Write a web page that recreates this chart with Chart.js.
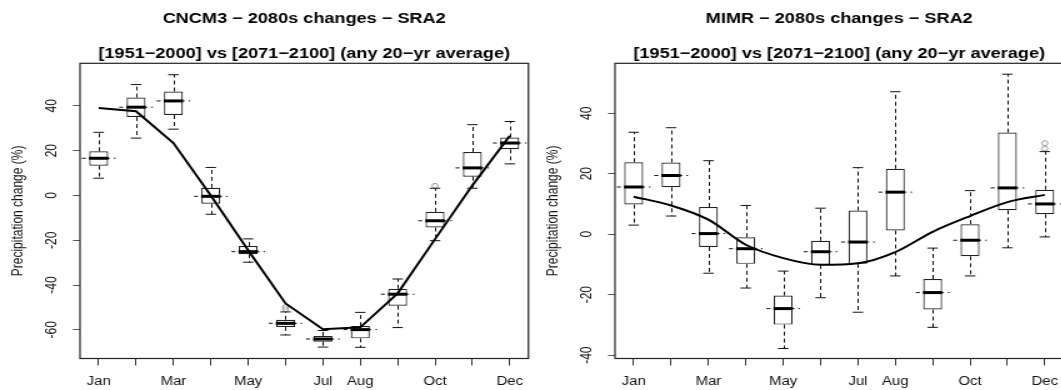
<!DOCTYPE html>
<html>
<head>
<meta charset="utf-8">
<script src="https://cdn.jsdelivr.net/npm/chart.js@4.4.0/dist/chart.umd.min.js"></script>
<style>
  html, body { margin: 0; padding: 0; background: #fff; width: 1061px; height: 390px; overflow: hidden; }
  /* the reference is stretched sideways, so each panel is drawn narrow and widened */
  .panel { position: absolute; top: 0; width: 428px; height: 390px; transform: scaleX(1.25); transform-origin: 0 0; }
  #p1 { left: 0; }
  #p2 { left: 535px; }
</style>
</head>
<body>
<div class="panel" id="p1"><canvas id="c1" width="428" height="390"></canvas></div>
<div class="panel" id="p2"><canvas id="c2" width="428" height="390"></canvas></div>
<script>
// Monate + welche Labels R ueberhaupt zeigt
const months = ['Jan', 'Feb', 'Mar', 'Apr', 'May', 'Jun', 'Jul', 'Aug', 'Sep', 'Oct', 'Nov', 'Dec'];
const shownMonths = ['Jan', 'Mar', 'May', 'Jul', 'Aug', 'Oct', 'Dec'];

// CNCM3 boxplots (whisker low, Q1, median, Q3, whisker high) + ensemble line
const cncmLow  = [7.7, 25.6, 29.6, -8.4, -29.8, -62.3, -67.7, -67.8, -59.0, -20.2, 3.2, 14.1];
const cncmQ1   = [13.3, 35.0, 35.9, -3.7, -26.2, -58.7, -65.3, -63.8, -49.2, -14.3, 8.4, 20.6];
const cncmMed  = [16.6, 39.4, 42.2, -0.4, -25.1, -57.1, -64.1, -59.9, -44.1, -11.3, 12.3, 23.4];
const cncmQ3   = [19.7, 43.7, 46.4, 3.4, -22.6, -55.5, -62.7, -58.3, -41.7, -7.3, 19.4, 25.9];
const cncmHigh = [28.2, 49.5, 53.9, 12.5, -19.4, -52.0, -60.3, -52.2, -37.3, 3.2, 31.6, 33.0];
const cncmLine = [39.0, 37.6, 23.4, 0.0, -24.5, -48.2, -59.7, -58.9, -43.7, -19.5, 4.5, 26.7];
const cncmOutMonth = ['Jun', 'Jun', 'Oct'];
const cncmOutValue = [-49.8, -50.8, 4.3];
const cncmTicks = [-60, -40, -20, 0, 20, 40];

// MIMR
const mimrLow  = [3.0, 6.0, -12.9, -17.8, -37.8, -21.0, -25.8, -13.8, -30.8, -13.8, -4.5, -0.9];
const mimrQ1   = [9.8, 15.5, -4.2, -9.8, -29.9, -10.2, -9.8, 1.2, -24.9, -7.3, 7.9, 6.6];
const mimrMed  = [15.6, 19.4, 0.2, -4.8, -24.6, -5.8, -2.6, 13.9, -19.3, -2.0, 15.3, 10.0];
const mimrQ3   = [23.8, 23.7, 9.0, -1.0, -20.3, -2.2, 7.8, 21.6, -14.8, 3.3, 33.6, 14.7];
const mimrHigh = [33.7, 35.2, 24.3, 9.5, -12.2, 8.6, 22.0, 47.1, -4.6, 14.4, 52.9, 27.3];
const mimrLine = [12.4, 9.5, 4.8, -3.5, -7.9, -10.1, -9.6, -5.9, 0.8, 6.0, 10.6, 13.0];
const mimrOutMonth = ['Dec', 'Dec'];
const mimrOutValue = [30.1, 28.3];
const mimrTicks = [-40, -20, 0, 20, 40];

const FONT = '"Liberation Sans", Arial, Helvetica, sans-serif';

// Whisker, Kappen und Mediane selbst zeichnen (Chart.js hat keinen Boxplot)
const boxWhiskers = {
    id: 'boxWhiskers',
    beforeDatasetDraw(chart, args, opts) {
        if (args.index !== 0) return;
        const { ctx } = chart;
        const x = chart.scales.x, y = chart.scales.y;
        const step = x.getPixelForValue(1) - x.getPixelForValue(0);
        ctx.save();
        ctx.strokeStyle = '#111';
        ctx.lineWidth = 1;
        // gestrichelte Linie auf Hoehe des Medians
        ctx.setLineDash([3.2, 3.2]);
        opts.med.forEach((v, i) => {
            const cx = x.getPixelForValue(i), py = y.getPixelForValue(v);
            ctx.beginPath();
            ctx.moveTo(cx - step * 0.45, py);
            ctx.lineTo(cx + step * 0.45, py);
            ctx.stroke();
        });
        // Whisker
        ctx.setLineDash([4, 3]);
        opts.low.forEach((v, i) => {
            const cx = Math.round(x.getPixelForValue(i)) + 0.5;
            ctx.beginPath();
            ctx.moveTo(cx, y.getPixelForValue(opts.q3[i]));
            ctx.lineTo(cx, y.getPixelForValue(opts.high[i]));
            ctx.moveTo(cx, y.getPixelForValue(opts.q1[i]));
            ctx.lineTo(cx, y.getPixelForValue(v));
            ctx.stroke();
        });
        // Kappen
        ctx.setLineDash([]);
        opts.low.forEach((v, i) => {
            const cx = x.getPixelForValue(i);
            [v, opts.high[i]].forEach(w => {
                const py = y.getPixelForValue(w);
                ctx.beginPath();
                ctx.moveTo(cx - step * 0.14, py);
                ctx.lineTo(cx + step * 0.14, py);
                ctx.stroke();
            });
        });
        ctx.restore();
    },
    afterDatasetDraw(chart, args, opts) {
        if (args.index !== 0) return;
        const { ctx } = chart;
        const x = chart.scales.x, y = chart.scales.y;
        const step = x.getPixelForValue(1) - x.getPixelForValue(0);
        ctx.save();
        ctx.strokeStyle = '#000';
        ctx.lineWidth = 3;
        opts.med.forEach((v, i) => {
            const cx = x.getPixelForValue(i), py = y.getPixelForValue(v);
            ctx.beginPath();
            ctx.moveTo(cx - step * 0.26, py);
            ctx.lineTo(cx + step * 0.26, py);
            ctx.stroke();
        });
        ctx.restore();
    },
    afterDraw(chart) {
        const { ctx, chartArea: a } = chart;
        ctx.save();
        ctx.strokeStyle = '#222';
        ctx.lineWidth = 1.2;
        ctx.strokeRect(a.left, a.top, a.right - a.left, a.bottom - a.top);
        ctx.restore();
    }
};

function makeChart(canvasId, title, low, q1, med, q3, high, line, outMonth, outValue, yTicks, yMin, yMax, smooth) {
    const ctx = document.getElementById(canvasId).getContext('2d');
    return new Chart(ctx, {
        type: 'bar',
        data: {
            labels: months,
            datasets: [
                {
                    type: 'bar',
                    data: months.map((m, i) => [q1[i], q3[i]]),
                    backgroundColor: '#fff',
                    borderColor: '#222',
                    borderWidth: 1.2,
                    borderSkipped: false,
                    barPercentage: 0.507,
                    categoryPercentage: 1,
                    order: 2
                },
                {
                    type: 'line',
                    data: line,
                    borderColor: '#000',
                    borderWidth: 2,
                    pointRadius: 0,
                    cubicInterpolationMode: smooth ? 'monotone' : 'default',
                    tension: 0,
                    fill: false,
                    order: 1
                },
                {
                    type: 'line',
                    data: outMonth.map((m, i) => ({ x: m, y: outValue[i] })),
                    showLine: false,
                    pointStyle: 'circle',
                    pointRadius: 2.4,
                    pointBorderWidth: 1,
                    pointBorderColor: '#9a9a9a',
                    pointBackgroundColor: 'rgba(0,0,0,0)',
                    order: 3
                }
            ]
        },
        options: {
            responsive: false,
            animation: false,
            layout: { padding: { left: 0, right: 4, top: 0, bottom: 0 } },
            plugins: {
                legend: { display: false },
                tooltip: { enabled: false },
                title: {
                    display: true, text: title, fullSize: false, color: '#000',
                    font: { family: FONT, size: 14.5, weight: 'bold', lineHeight: 1.2 },
                    padding: { top: 9.9, bottom: 10 }
                },
                subtitle: {
                    display: true, text: '[1951\u22122000] vs [2071\u22122100] (any 20\u2212yr average)',
                    fullSize: false, color: '#000',
                    font: { family: FONT, size: 14.5, weight: 'bold', lineHeight: 1.2 },
                    padding: { top: 7.5, bottom: 1.1 }
                },
                boxWhiskers: { low: low, q1: q1, med: med, q3: q3, high: high }
            },
            scales: {
                x: {
                    type: 'category',
                    offset: true,
                    afterFit: s => { s.height = 31.5; },
                    grid: { drawOnChartArea: false, offset: false, tickLength: 7, tickColor: '#333' },
                    border: { display: false },
                    ticks: {
                        autoSkip: false, maxRotation: 0, padding: 9.3, color: '#111',
                        font: { family: FONT, size: 12 },
                        callback: (v, i) => shownMonths.includes(months[i]) ? months[i] : ''
                    }
                },
                y: {
                    min: yMin, max: yMax,
                    afterBuildTicks: s => { s.ticks = yTicks.map(v => ({ value: v })); },
                    afterFit: s => { s.width = 64; },
                    grid: { drawOnChartArea: false, tickLength: 5.6, tickColor: '#555' },
                    border: { display: false },
                    ticks: {
                        minRotation: 90, maxRotation: 90, crossAlign: 'center', padding: 8, color: '#111',
                        font: { family: FONT, size: 12 }
                    },
                    title: {
                        display: true, text: 'Precipitation change (%)', color: '#111',
                        font: { family: FONT, size: 12 },
                        padding: { top: 7.2, bottom: 0 }
                    }
                }
            }
        },
        plugins: [boxWhiskers]
    });
}

makeChart('c1', 'CNCM3 \u2212 2080s changes \u2212 SRA2',
    cncmLow, cncmQ1, cncmMed, cncmQ3, cncmHigh, cncmLine, cncmOutMonth, cncmOutValue, cncmTicks, -72.8, 59.0, false);
makeChart('c2', 'MIMR \u2212 2080s changes \u2212 SRA2',
    mimrLow, mimrQ1, mimrMed, mimrQ3, mimrHigh, mimrLine, mimrOutMonth, mimrOutValue, mimrTicks, -41.1, 56.5, true);
</script>
</body>
</html>
